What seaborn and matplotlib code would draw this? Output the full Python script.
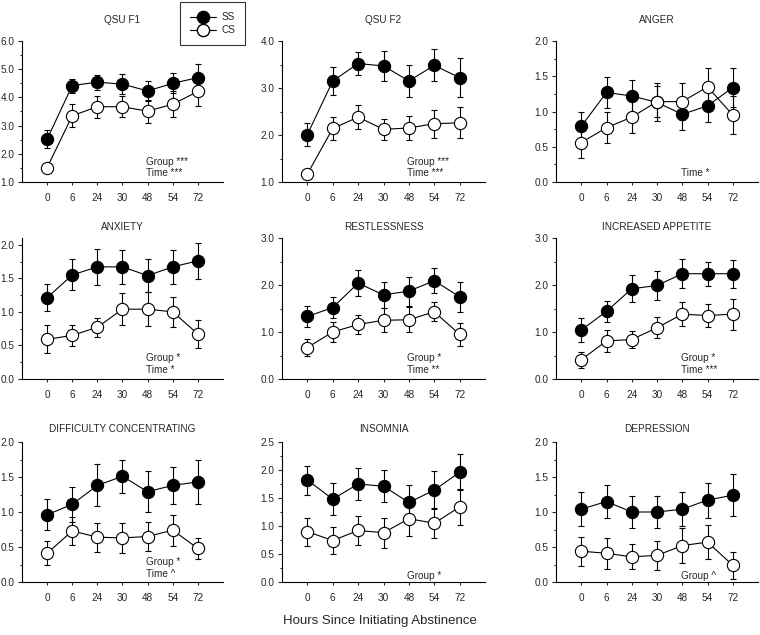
import numpy as np
import pandas as pd
import seaborn as sns
import matplotlib.pyplot as plt
from matplotlib.lines import Line2D
from matplotlib.ticker import MultipleLocator, AutoMinorLocator, FormatStrFormatter


sns.set_style('ticks')
plt.rcParams['font.family'] = ['Liberation Sans', 'DejaVu Sans']

hours = ['0', '6', '24', '30', '48', '54', '72']
panel_titles = ['QSU F1', 'QSU F2', 'ANGER',
                'ANXIETY', 'RESTLESSNESS', 'INCREASED APPETITE',
                'DIFFICULTY CONCENTRATING', 'INSOMNIA', 'DEPRESSION']
stats_text = [['Group ***', 'Time ***'], ['Group ***', 'Time ***'], ['Time *'],
              ['Group *', 'Time *'], ['Group *', 'Time **'], ['Group *', 'Time ***'],
              ['Group *', 'Time ^'], ['Group *'], ['Group ^']]

# means and standard errors
qsu1_ss = [2.52, 4.42, 4.54, 4.47, 4.23, 4.50, 4.70]
qsu1_ss_err = [0.31, 0.25, 0.27, 0.36, 0.36, 0.35, 0.47]
qsu1_cs = [1.51, 3.35, 3.67, 3.67, 3.51, 3.76, 4.21]
qsu1_cs_err = [0.05, 0.41, 0.39, 0.38, 0.41, 0.45, 0.52]

qsu2_ss = [2.01, 3.15, 3.52, 3.47, 3.15, 3.48, 3.22]
qsu2_ss_err = [0.25, 0.30, 0.25, 0.32, 0.35, 0.34, 0.41]
qsu2_cs = [1.17, 2.14, 2.38, 2.12, 2.15, 2.24, 2.26]
qsu2_cs_err = [0.05, 0.25, 0.25, 0.22, 0.25, 0.30, 0.33]

anger_ss = [0.79, 1.27, 1.22, 1.13, 0.96, 1.08, 1.34]
anger_ss_err = [0.20, 0.22, 0.23, 0.27, 0.22, 0.23, 0.27]
anger_cs = [0.56, 0.77, 0.92, 1.14, 1.14, 1.35, 0.95]
anger_cs_err = [0.22, 0.22, 0.23, 0.22, 0.26, 0.27, 0.27]

anx_ss = [1.21, 1.55, 1.67, 1.67, 1.54, 1.67, 1.76]
anx_ss_err = [0.20, 0.23, 0.27, 0.25, 0.24, 0.25, 0.27]
anx_cs = [0.59, 0.65, 0.77, 1.04, 1.04, 1.00, 0.67]
anx_cs_err = [0.21, 0.16, 0.14, 0.24, 0.25, 0.22, 0.21]

rest_ss = [1.33, 1.52, 2.04, 1.79, 1.87, 2.09, 1.75]
rest_ss_err = [0.22, 0.23, 0.28, 0.27, 0.31, 0.27, 0.32]
rest_cs = [0.67, 1.00, 1.16, 1.25, 1.26, 1.43, 0.95]
rest_cs_err = [0.19, 0.22, 0.21, 0.26, 0.27, 0.20, 0.25]

app_ss = [1.04, 1.44, 1.92, 1.99, 2.24, 2.24, 2.24]
app_ss_err = [0.25, 0.23, 0.29, 0.30, 0.31, 0.26, 0.30]
app_cs = [0.41, 0.81, 0.84, 1.09, 1.38, 1.35, 1.38]
app_cs_err = [0.17, 0.23, 0.18, 0.22, 0.26, 0.25, 0.33]

conc_ss = [0.96, 1.11, 1.38, 1.51, 1.29, 1.38, 1.43]
conc_ss_err = [0.22, 0.25, 0.30, 0.24, 0.29, 0.27, 0.31]
conc_cs = [0.41, 0.73, 0.64, 0.63, 0.65, 0.74, 0.48]
conc_cs_err = [0.17, 0.20, 0.21, 0.22, 0.21, 0.22, 0.15]

ins_ss = [1.82, 1.48, 1.75, 1.71, 1.42, 1.64, 1.96]
ins_ss_err = [0.26, 0.28, 0.29, 0.29, 0.32, 0.34, 0.32]
ins_cs = [0.90, 0.74, 0.92, 0.88, 1.13, 1.05, 1.34]
ins_cs_err = [0.25, 0.24, 0.26, 0.27, 0.30, 0.27, 0.32]

dep_ss = [1.04, 1.15, 1.00, 1.00, 1.04, 1.17, 1.24]
dep_ss_err = [0.24, 0.23, 0.23, 0.23, 0.24, 0.25, 0.30]
dep_cs = [0.44, 0.41, 0.36, 0.38, 0.52, 0.57, 0.24]
dep_cs_err = [0.21, 0.22, 0.18, 0.21, 0.25, 0.24, 0.19]

panel_data = [
    (qsu1_ss, qsu1_ss_err, qsu1_cs, qsu1_cs_err),
    (qsu2_ss, qsu2_ss_err, qsu2_cs, qsu2_cs_err),
    (anger_ss, anger_ss_err, anger_cs, anger_cs_err),
    (anx_ss, anx_ss_err, anx_cs, anx_cs_err),
    (rest_ss, rest_ss_err, rest_cs, rest_cs_err),
    (app_ss, app_ss_err, app_cs, app_cs_err),
    (conc_ss, conc_ss_err, conc_cs, conc_cs_err),
    (ins_ss, ins_ss_err, ins_cs, ins_cs_err),
    (dep_ss, dep_ss_err, dep_cs, dep_cs_err),
]

# axis ranges: (ymin, ymax, major step)
y_ranges = [(1, 6, 1.0), (1, 4, 1.0), (0, 2, 0.5),
            (0, 2.1, 0.5), (0, 3, 1.0), (0, 3, 1.0),
            (0, 2, 0.5), (0, 2.5, 0.5), (0, 2, 0.5)]

W, H = 760, 635
col_x = [(22, 223), (282, 485), (556, 758)]
row_y = [(41, 182), (238, 379), (442, 582)]
title_y = [20, 227, 429]
text_x = [146, 407, 681]
text_y = [(162, 173), (358, 370), (562, 574)]
lw = 0.8


def main():
    fig = plt.figure(figsize=(W / 100, H / 100), dpi=100)
    pos = np.arange(len(hours))

    for i, (ss, ss_err, cs, cs_err) in enumerate(panel_data):
        r, c = divmod(i, 3)
        x0, x1 = col_x[c]
        y0, y1 = row_y[r]
        ax = fig.add_axes([x0 / W, 1 - y1 / H, (x1 - x0) / W, (y1 - y0) / H])

        df = pd.DataFrame({'pos': np.concatenate([pos, pos]),
                           'value': ss + cs,
                           'err': ss_err + cs_err,
                           'group': ['SS'] * 7 + ['CS'] * 7})

        for grp, fc, z in [('SS', 'black', 3), ('CS', 'white', 4)]:
            d = df[df['group'] == grp]
            ax.errorbar(d['pos'], d['value'], yerr=d['err'], fmt='none', ecolor='black',
                        elinewidth=lw, capsize=2.5, capthick=lw, zorder=1.5)
            sns.lineplot(data=d, x='pos', y='value', ax=ax, color='black', lw=lw,
                         marker='o', markersize=8.8, markerfacecolor=fc,
                         markeredgecolor='black', markeredgewidth=lw,
                         errorbar=None, zorder=z)

        ymin, ymax, step = y_ranges[i]
        ax.set_ylim(ymin, ymax)
        ax.set_xlim(-1, 7)
        ax.set_xticks(pos)
        ax.set_xticklabels(hours)
        ax.yaxis.set_major_locator(MultipleLocator(step))
        ax.yaxis.set_minor_locator(AutoMinorLocator(2))
        ax.yaxis.set_major_formatter(FormatStrFormatter('%.1f'))
        ax.set_xlabel('')
        ax.set_ylabel('')
        sns.despine(ax=ax)
        for s in ['left', 'bottom']:
            ax.spines[s].set_linewidth(lw)
            ax.spines[s].set_color('black')
        ax.tick_params(axis='y', which='major', length=3, width=lw, labelsize=7.2, pad=2.5)
        ax.tick_params(axis='y', which='minor', length=1.6, width=lw)
        ax.tick_params(axis='x', length=2, width=lw, labelsize=7.2, pad=6)

        fig.text((x0 + x1) / 2 / W, 1 - title_y[r] / H, panel_titles[i],
                 ha='center', va='center', fontsize=7.2)
        lines = stats_text[i]
        ys = text_y[r] if len(lines) == 2 else (text_y[r][1],)
        if i == 7 or i == 8:
            ys = (576,)
        for txt, ty in zip(lines, ys):
            fig.text(text_x[c] / W, 1 - ty / H, txt, ha='left', va='center', fontsize=7.2)

    handles = [Line2D([], [], color='black', lw=lw, marker='o', markersize=8.8,
                      markerfacecolor='black', markeredgecolor='black'),
               Line2D([], [], color='black', lw=lw, marker='o', markersize=8.8,
                      markerfacecolor='white', markeredgecolor='black')]
    leg = fig.legend(handles, ['SS', 'CS'], loc='upper right',
                     bbox_to_anchor=(245 / W, 1 - 2 / H), fontsize=7.2,
                     frameon=True, fancybox=False, handlelength=2.6,
                     handletextpad=0.5, borderpad=1.0, labelspacing=0.3,
                     borderaxespad=0)
    leg.get_frame().set_edgecolor('black')
    leg.get_frame().set_linewidth(lw)

    fig.text(380 / W, 1 - 621 / H, 'Hours Since Initiating Abstinence',
             ha='center', va='center', fontsize=9.5)

    plt.savefig('out.png', dpi=100)
    plt.close()


if __name__ == '__main__':
    main()
